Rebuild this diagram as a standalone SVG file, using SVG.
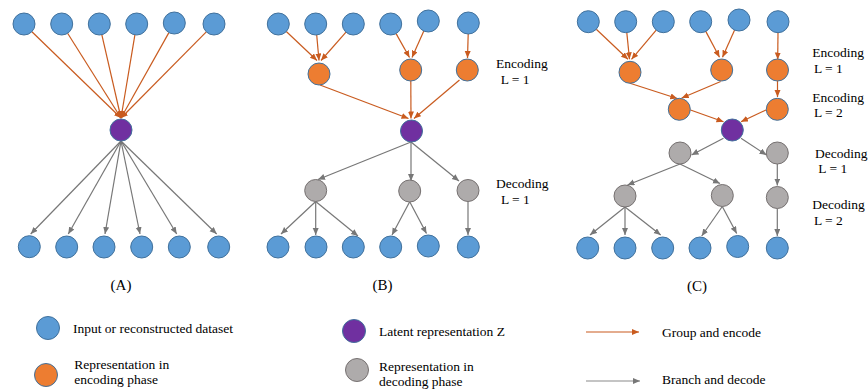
<svg xmlns="http://www.w3.org/2000/svg" width="868" height="390" viewBox="0 0 868 390">
<defs>
<marker id="ao" markerUnits="userSpaceOnUse" markerWidth="8" markerHeight="7" refX="7" refY="3" orient="auto"><path d="M0,0 L7,3 L0,6 z" fill="#C95B1F"/></marker>
<marker id="ag" markerUnits="userSpaceOnUse" markerWidth="8" markerHeight="7" refX="7" refY="3" orient="auto"><path d="M0,0 L7,3 L0,6 z" fill="#777777"/></marker>
<style>
.inp{fill:#5B9BD5;stroke:#41719C;stroke-width:1}
.enc{fill:#ED7D31;stroke:#41719C;stroke-width:1}
.lat{fill:#7030A0;stroke:#41719C;stroke-width:1}
.dec{fill:#AEABAB;stroke:#767171;stroke-width:1}
.e{stroke:#C95B1F;stroke-width:1.2;fill:none;marker-end:url(#ao)}
.d{stroke:#777777;stroke-width:1.2;fill:none;marker-end:url(#ag)}
.eL{stroke:#C95B1F;stroke-width:1.2;fill:none;marker-end:url(#ao)}
.dL{stroke:#8A8A8A;stroke-width:1.2;fill:none;marker-end:url(#ag)}
text{font-family:"Liberation Serif","Times New Roman",serif;font-size:13.5px;fill:#000}
.pl{font-size:15px;text-anchor:middle}
</style>
</defs>
<rect width="868" height="390" fill="#fff"/>

<g id="connectors">
<!-- Panel A -->
<line class="e" x1="31.9" y1="31.7" x2="121" y2="118"/>
<line class="e" x1="67.6" y1="33.3" x2="121" y2="118"/>
<line class="e" x1="101.8" y1="34.7" x2="121" y2="118"/>
<line class="e" x1="134.9" y1="34.8" x2="121" y2="118"/>
<line class="e" x1="168.9" y1="32.6" x2="121" y2="118"/>
<line class="e" x1="206.3" y1="31.8" x2="121" y2="118"/>
<line class="d" x1="121" y1="141" x2="30.7" y2="234"/>
<line class="d" x1="121" y1="141" x2="68.3" y2="234"/>
<line class="d" x1="121" y1="141" x2="105" y2="234"/>
<line class="d" x1="121" y1="141" x2="140" y2="234"/>
<line class="d" x1="121" y1="141" x2="176.7" y2="234"/>
<line class="d" x1="121" y1="141" x2="216.7" y2="234"/>
<!-- Panel B -->
<line class="e" x1="286.3" y1="31.5" x2="317" y2="60.5"/>
<line class="e" x1="316.7" y1="35" x2="319" y2="60.5"/>
<line class="e" x1="346" y1="32.2" x2="321" y2="60.5"/>
<line class="e" x1="396.1" y1="33.6" x2="409.5" y2="57.5"/>
<line class="e" x1="423.8" y1="31" x2="412" y2="57.5"/>
<line class="e" x1="468.2" y1="34" x2="467.5" y2="58"/>
<line class="e" x1="320" y1="85" x2="408.5" y2="118.5"/>
<line class="e" x1="410.8" y1="81" x2="411" y2="118.5"/>
<line class="e" x1="459.5" y1="80" x2="414" y2="118.5"/>
<line class="d" x1="411" y1="142" x2="318" y2="179.5"/>
<line class="d" x1="411" y1="142" x2="411" y2="181"/>
<line class="d" x1="411" y1="142" x2="459" y2="181"/>
<line class="d" x1="315.7" y1="201.5" x2="281" y2="234"/>
<line class="d" x1="315.7" y1="201.5" x2="315.7" y2="235"/>
<line class="d" x1="315.7" y1="201.5" x2="358" y2="236"/>
<line class="d" x1="409.7" y1="201.7" x2="392" y2="235"/>
<line class="d" x1="409.7" y1="201.7" x2="426.5" y2="233.5"/>
<line class="d" x1="468" y1="201.5" x2="468" y2="235"/>
<!-- Panel C -->
<line class="e" x1="596.3" y1="29.3" x2="628" y2="59.3"/>
<line class="e" x1="626.8" y1="32.6" x2="629.5" y2="59.3"/>
<line class="e" x1="656.2" y1="30.1" x2="631.5" y2="59.3"/>
<line class="e" x1="705.8" y1="31.4" x2="719.5" y2="57.3"/>
<line class="e" x1="734.6" y1="30.1" x2="722.5" y2="57.3"/>
<line class="e" x1="778" y1="32.7" x2="777.7" y2="59.5"/>
<line class="e" x1="630" y1="83.3" x2="677.3" y2="98.5"/>
<line class="e" x1="720.7" y1="81.5" x2="681.7" y2="98"/>
<line class="e" x1="777.5" y1="81" x2="777.5" y2="97"/>
<line class="e" x1="690.5" y1="110" x2="723.5" y2="121.7"/>
<line class="e" x1="766" y1="110" x2="741" y2="121.7"/>
<line class="d" x1="723.5" y1="138.3" x2="691.5" y2="155"/>
<line class="d" x1="741" y1="138.3" x2="766.5" y2="155"/>
<line class="d" x1="680" y1="164" x2="627.5" y2="185"/>
<line class="d" x1="680" y1="164" x2="720" y2="183.5"/>
<line class="d" x1="777.3" y1="164" x2="777.3" y2="185.5"/>
<line class="d" x1="625" y1="207" x2="590" y2="235"/>
<line class="d" x1="625" y1="207" x2="625" y2="235"/>
<line class="d" x1="625" y1="207" x2="660.7" y2="235"/>
<line class="d" x1="722.3" y1="206.5" x2="701.7" y2="236"/>
<line class="d" x1="722.3" y1="206.5" x2="736.7" y2="233.5"/>
<line class="d" x1="777.3" y1="208.5" x2="777.3" y2="236"/>
<!-- Legend -->
<line class="eL" x1="586" y1="332" x2="639" y2="332"/>
<line class="dL" x1="586" y1="381" x2="640" y2="381"/>
</g>

<!-- Panel A nodes -->
<g id="A-in1"><circle class="inp" cx="24" cy="24" r="11"/></g>
<g id="A-in2"><circle class="inp" cx="61.7" cy="24" r="11"/></g>
<g id="A-in3"><circle class="inp" cx="99.3" cy="24" r="11"/></g>
<g id="A-in4"><circle class="inp" cx="136.7" cy="24" r="11"/></g>
<g id="A-in5"><circle class="inp" cx="174.3" cy="23" r="11"/></g>
<g id="A-in6"><circle class="inp" cx="214" cy="24" r="11"/></g>
<g id="A-z"><circle class="lat" cx="121" cy="130" r="11"/></g>
<g id="A-out1"><circle class="inp" cx="29.3" cy="246.7" r="11"/></g>
<g id="A-out2"><circle class="inp" cx="66.7" cy="247" r="11"/></g>
<g id="A-out3"><circle class="inp" cx="104" cy="247" r="11"/></g>
<g id="A-out4"><circle class="inp" cx="141.7" cy="247" r="11"/></g>
<g id="A-out5"><circle class="inp" cx="179.3" cy="247" r="11"/></g>
<g id="A-out6"><circle class="inp" cx="218.7" cy="247" r="11"/></g>

<!-- Panel B nodes -->
<g id="B-in1"><circle class="inp" cx="278.3" cy="24" r="11"/></g>
<g id="B-in2"><circle class="inp" cx="315.7" cy="24" r="11"/></g>
<g id="B-in3"><circle class="inp" cx="353.3" cy="24" r="11"/></g>
<g id="B-in4"><circle class="inp" cx="390.7" cy="24" r="11"/></g>
<g id="B-in5"><circle class="inp" cx="428.3" cy="21" r="11"/></g>
<g id="B-in6"><circle class="inp" cx="468.3" cy="23" r="11"/></g>
<g id="B-enc1"><circle class="enc" cx="319" cy="74" r="11"/></g>
<g id="B-enc2"><circle class="enc" cx="410.7" cy="70" r="11"/></g>
<g id="B-enc3"><circle class="enc" cx="467.3" cy="70" r="11"/></g>
<g id="B-z"><circle class="lat" cx="411.5" cy="131" r="11"/></g>
<g id="B-dec1"><circle class="dec" cx="315.7" cy="190.5" r="11"/></g>
<g id="B-dec2"><circle class="dec" cx="409.7" cy="191" r="11"/></g>
<g id="B-dec3"><circle class="dec" cx="468" cy="190.5" r="11"/></g>
<g id="B-out1"><circle class="inp" cx="278" cy="247" r="11"/></g>
<g id="B-out2"><circle class="inp" cx="316" cy="247" r="11"/></g>
<g id="B-out3"><circle class="inp" cx="353.3" cy="247" r="11"/></g>
<g id="B-out4"><circle class="inp" cx="390.7" cy="247" r="11"/></g>
<g id="B-out5"><circle class="inp" cx="428.3" cy="246" r="11"/></g>
<g id="B-out6"><circle class="inp" cx="468.3" cy="247" r="11"/></g>

<!-- Panel C nodes -->
<g id="C-in1"><circle class="inp" cx="588.3" cy="21.7" r="11"/></g>
<g id="C-in2"><circle class="inp" cx="625.7" cy="21.7" r="11"/></g>
<g id="C-in3"><circle class="inp" cx="663.3" cy="21.7" r="11"/></g>
<g id="C-in4"><circle class="inp" cx="700.7" cy="21.7" r="11"/></g>
<g id="C-in5"><circle class="inp" cx="739" cy="20" r="11"/></g>
<g id="C-in6"><circle class="inp" cx="778" cy="21.7" r="11"/></g>
<g id="C-enc1a"><circle class="enc" cx="630" cy="72.3" r="11"/></g>
<g id="C-enc1b"><circle class="enc" cx="721.7" cy="70" r="11"/></g>
<g id="C-enc1c"><circle class="enc" cx="777.5" cy="70" r="11"/></g>
<g id="C-enc2a"><circle class="enc" cx="679.3" cy="109.3" r="11"/></g>
<g id="C-enc2b"><circle class="enc" cx="777.3" cy="109.3" r="11"/></g>
<g id="C-z"><circle class="lat" cx="732.3" cy="130" r="11"/></g>
<g id="C-dec1a"><circle class="dec" cx="680" cy="153" r="11"/></g>
<g id="C-dec1b"><circle class="dec" cx="777.3" cy="153" r="11"/></g>
<g id="C-dec2a"><circle class="dec" cx="625" cy="196" r="11"/></g>
<g id="C-dec2b"><circle class="dec" cx="722.3" cy="195.5" r="11"/></g>
<g id="C-dec2c"><circle class="dec" cx="777.3" cy="197.5" r="11"/></g>
<g id="C-out1"><circle class="inp" cx="587.7" cy="248" r="11"/></g>
<g id="C-out2"><circle class="inp" cx="625" cy="248" r="11"/></g>
<g id="C-out3"><circle class="inp" cx="662.7" cy="248" r="11"/></g>
<g id="C-out4"><circle class="inp" cx="700" cy="248" r="11"/></g>
<g id="C-out5"><circle class="inp" cx="737.7" cy="246.5" r="11"/></g>
<g id="C-out6"><circle class="inp" cx="777.3" cy="248" r="11"/></g>

<!-- Labels -->
<g id="labels">
<text class="pl" x="121" y="290">(A)</text>
<text class="pl" x="382.5" y="290">(B)</text>
<text class="pl" x="697" y="291">(C)</text>
<text x="496" y="68">Encoding</text>
<text x="500.7" y="84.3">L = 1</text>
<text x="496" y="188">Decoding</text>
<text x="501" y="204">L = 1</text>
<text x="812.3" y="57.3">Encoding</text>
<text x="814" y="73.3">L = 1</text>
<text x="812.3" y="101.7">Encoding</text>
<text x="814" y="117.3">L = 2</text>
<text x="815" y="157.7">Decoding</text>
<text x="818.3" y="173.3">L = 1</text>
<text x="812.3" y="208.7">Decoding</text>
<text x="814" y="225">L = 2</text>
</g>

<!-- Legend -->
<g id="legend-input"><circle class="inp" cx="48" cy="328" r="11.5"/><text x="73" y="333.3">Input or reconstructed dataset</text></g>
<g id="legend-encoding"><circle class="enc" cx="46" cy="375" r="11.5"/><text x="74.3" y="369.3">Representation in</text><text x="74.3" y="384.3">encoding phase</text></g>
<g id="legend-latent"><circle class="lat" cx="354" cy="331" r="11.5"/><text x="379" y="335.5">Latent representation Z</text></g>
<g id="legend-decoding"><circle class="dec" cx="357" cy="370" r="11.5"/><text x="379" y="371">Representation in</text><text x="379" y="386">decoding phase</text></g>
<g id="legend-encode-arrow"><text x="662" y="336.5">Group and encode</text></g>
<g id="legend-decode-arrow"><text x="662" y="384.3">Branch and decode</text></g>
</svg>
